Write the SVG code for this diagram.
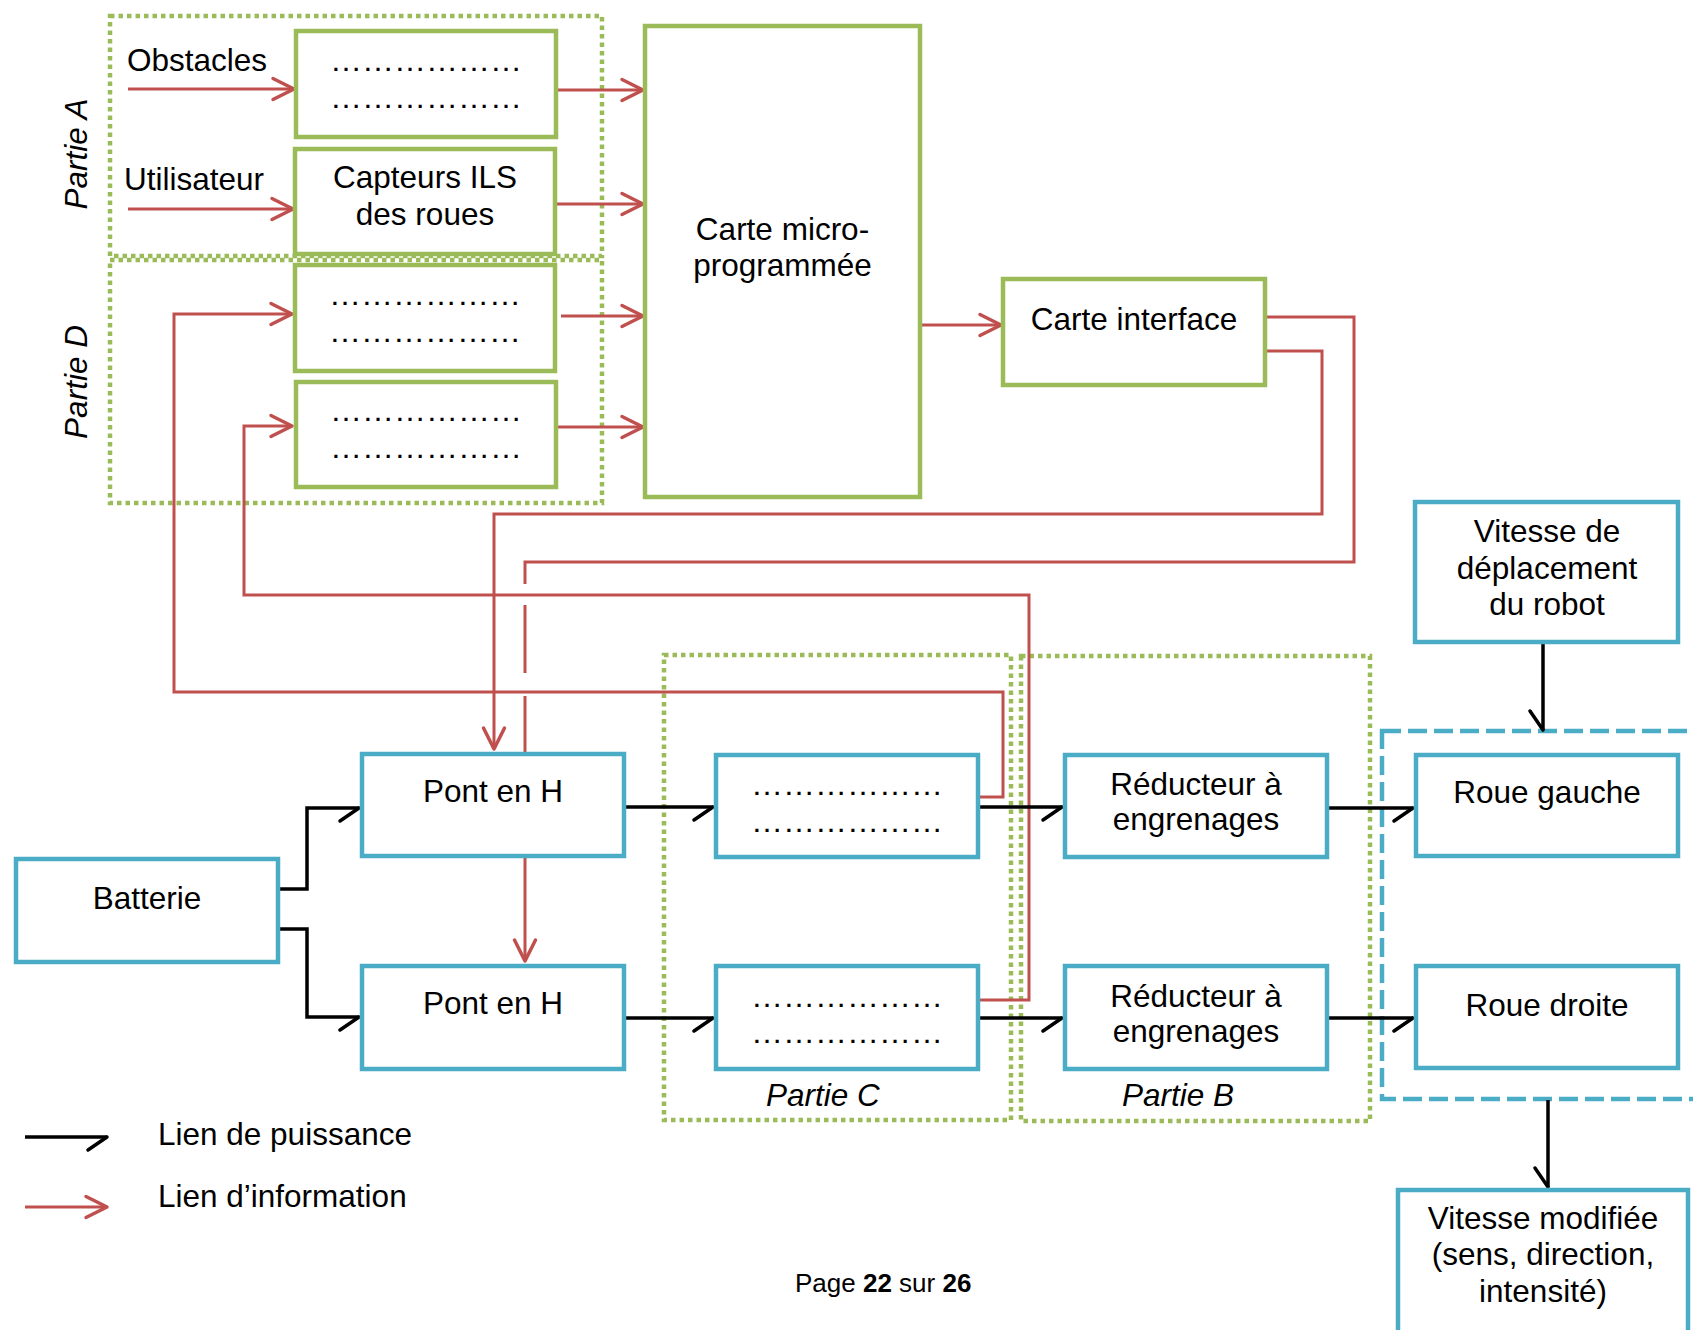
<svg xmlns="http://www.w3.org/2000/svg" width="1693" height="1330" viewBox="0 0 1693 1330">
  <defs>
    <style>
      text { font-family: "Liberation Sans", Arial, sans-serif; font-size: 31.5px; fill: #000; }
      .mid { text-anchor: middle; }
      .it { font-style: italic; }
      .dots { font-size: 32px; text-anchor: middle; }
      .gbox { fill: #fff; stroke: #9BBB59; stroke-width: 4.5; }
      .bbox { fill: #fff; stroke: #4BACC6; stroke-width: 4.5; }
      .zone { fill: none; stroke: #9BBB59; stroke-width: 4.5; stroke-dasharray: 4.5 4; }
      .zone-blue { fill: none; stroke: #4BACC6; stroke-width: 4.5; stroke-dasharray: 19 7; }
      .info { fill: none; stroke: #C0504D; stroke-width: 3; marker-end: url(#mInfo); }
      .info-plain { fill: none; stroke: #C0504D; stroke-width: 3; }
      .power { fill: none; stroke: #000; stroke-width: 3.5; marker-end: url(#mPower); }
      .page { font-size: 26px; }
    </style>
    <!-- open chevron for information links -->
    <marker id="mInfo" markerUnits="userSpaceOnUse" viewBox="-26 -16 30 32" markerWidth="30" markerHeight="32" refX="0" refY="0" orient="auto">
      <path d="M-21,-10.5 L0,0 L-21,10.5" fill="none" stroke="#C0504D" stroke-width="3.5" stroke-linecap="round" stroke-linejoin="round"/>
    </marker>
    <!-- single barb for power links -->
    <marker id="mPower" markerUnits="userSpaceOnUse" viewBox="-24 -6 28 24" markerWidth="28" markerHeight="24" refX="0" refY="0" orient="auto">
      <path d="M-19,13 L0,0" fill="none" stroke="#000" stroke-width="3.5" stroke-linecap="round"/>
    </marker>
  </defs>

  <rect width="1693" height="1330" fill="#fff"/>

  <!-- zones -->
  <g id="zones">
    <rect id="zone-a" class="zone" x="110" y="16" width="492" height="240"/>
    <rect id="zone-d" class="zone" x="110" y="260" width="492" height="243"/>
    <rect id="zone-c" class="zone" x="664" y="655" width="347" height="465"/>
    <rect id="zone-b" class="zone" x="1021" y="656" width="349" height="465"/>
    <rect id="zone-roues" class="zone-blue" x="1382" y="731" width="330" height="368"/>
    <text class="it mid" transform="translate(87,154) rotate(-90)">Partie A</text>
    <text class="it mid" transform="translate(87,382) rotate(-90)">Partie D</text>
    <text class="it" x="766" y="1106">Partie C</text>
    <text class="it" x="1122" y="1106">Partie B</text>
  </g>

  <!-- connectors -->
  <g id="connectors">
    <!-- information links -->
    <path class="info" d="M128,89 H294"/>
    <path class="info" d="M128,209 H293"/>
    <path class="info" d="M558,90 H643"/>
    <path class="info" d="M557,204 H643"/>
    <path class="info" d="M561,316 H643"/>
    <path class="info" d="M558,427 H643"/>
    <path class="info" d="M922,325 H1001"/>
    <path class="info" d="M1266,351 H1322 V514 H494 V749"/>
    <path class="info-plain" d="M1266,317 H1354 V562 H525 V584 M525,605 V673"/>
    <path class="info" d="M525,696 V961"/>
    <path class="info" d="M980,797 H1003 V692 H174 V314 H292"/>
    <path class="info" d="M980,1000 H1029 V595 H244 V426 H292"/>
    <!-- power links -->
    <path class="power" d="M280,889 H307 V808 H359"/>
    <path class="power" d="M280,929 H307 V1017 H359"/>
    <path class="power" d="M626,807 H713"/>
    <path class="power" d="M626,1018 H713"/>
    <path class="power" d="M980,807 H1062"/>
    <path class="power" d="M980,1018 H1062"/>
    <path class="power" d="M1329,808 H1413"/>
    <path class="power" d="M1329,1018 H1413"/>
    <path class="power" d="M1543,644 V730"/>
    <path class="power" d="M1548,1100 V1187"/>
  </g>

  <!-- nodes -->
  <g id="capteur-obstacles">
    <rect class="gbox" x="296" y="31" width="260" height="106"/>
    <text class="dots" x="426" y="71">………………</text>
    <text class="dots" x="426" y="108">………………</text>
  </g>
  <g id="capteurs-ils">
    <rect class="gbox" x="295" y="149" width="260" height="105"/>
    <text class="mid" x="425" y="188">Capteurs ILS</text>
    <text class="mid" x="425" y="225">des roues</text>
  </g>
  <g id="bloc-d1">
    <rect class="gbox" x="295" y="265" width="260" height="106"/>
    <text class="dots" x="425" y="305">………………</text>
    <text class="dots" x="425" y="342">………………</text>
  </g>
  <g id="bloc-d2">
    <rect class="gbox" x="296" y="382" width="260" height="105"/>
    <text class="dots" x="426" y="421">………………</text>
    <text class="dots" x="426" y="458">………………</text>
  </g>
  <g id="carte-micro">
    <rect class="gbox" x="645" y="26" width="275" height="471"/>
    <text class="mid" x="782.5" y="240">Carte micro-</text>
    <text class="mid" x="782.5" y="276">programmée</text>
  </g>
  <g id="carte-interface">
    <rect class="gbox" x="1003" y="279" width="262" height="106"/>
    <text class="mid" x="1134" y="330">Carte interface</text>
  </g>
  <g id="batterie">
    <rect class="bbox" x="16" y="859" width="262" height="103"/>
    <text class="mid" x="147" y="909">Batterie</text>
  </g>
  <g id="pont-h-1">
    <rect class="bbox" x="362" y="754" width="262" height="102"/>
    <text class="mid" x="493" y="802">Pont en H</text>
  </g>
  <g id="pont-h-2">
    <rect class="bbox" x="362" y="966" width="262" height="103"/>
    <text class="mid" x="493" y="1014">Pont en H</text>
  </g>
  <g id="moteur-1">
    <rect class="bbox" x="716" y="755" width="262" height="102"/>
    <text class="dots" x="847" y="795">………………</text>
    <text class="dots" x="847" y="832">………………</text>
  </g>
  <g id="moteur-2">
    <rect class="bbox" x="716" y="966" width="262" height="103"/>
    <text class="dots" x="847" y="1007">………………</text>
    <text class="dots" x="847" y="1043">………………</text>
  </g>
  <g id="reducteur-1">
    <rect class="bbox" x="1065" y="755" width="262" height="102"/>
    <text class="mid" x="1196" y="795">Réducteur à</text>
    <text class="mid" x="1196" y="830">engrenages</text>
  </g>
  <g id="reducteur-2">
    <rect class="bbox" x="1065" y="966" width="262" height="103"/>
    <text class="mid" x="1196" y="1007">Réducteur à</text>
    <text class="mid" x="1196" y="1042">engrenages</text>
  </g>
  <g id="vitesse-deplacement">
    <rect class="bbox" x="1415" y="502" width="263" height="140"/>
    <text class="mid" x="1547" y="542">Vitesse de</text>
    <text class="mid" x="1547" y="579">déplacement</text>
    <text class="mid" x="1547" y="615">du robot</text>
  </g>
  <g id="roue-gauche">
    <rect class="bbox" x="1416" y="755" width="262" height="101"/>
    <text class="mid" x="1547" y="803">Roue gauche</text>
  </g>
  <g id="roue-droite">
    <rect class="bbox" x="1416" y="966" width="262" height="102"/>
    <text class="mid" x="1547" y="1016">Roue droite</text>
  </g>
  <g id="vitesse-modifiee">
    <rect class="bbox" x="1398" y="1190" width="290" height="170"/>
    <text class="mid" x="1543" y="1229">Vitesse modifiée</text>
    <text class="mid" x="1543" y="1265">(sens, direction,</text>
    <text class="mid" x="1543" y="1302">intensité)</text>
  </g>

  <!-- inputs -->
  <g id="entrees">
    <text x="127" y="71">Obstacles</text>
    <text x="124" y="190">Utilisateur</text>
  </g>

  <!-- legend -->
  <g id="legende">
    <path class="power" d="M25,1137 H107"/>
    <path class="info" d="M25,1207 H107"/>
    <text x="158" y="1145">Lien de puissance</text>
    <text x="158" y="1207">Lien d’information</text>
  </g>

  <text class="page" x="795" y="1292">Page <tspan font-weight="bold">22</tspan> sur <tspan font-weight="bold">26</tspan></text>
</svg>
